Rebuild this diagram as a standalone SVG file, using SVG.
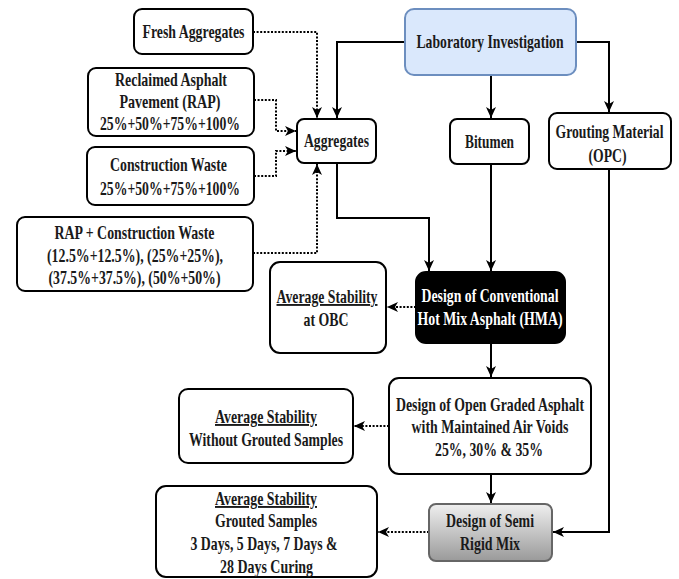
<svg xmlns="http://www.w3.org/2000/svg" width="679" height="579" viewBox="0 0 679 579">
<defs>
<style>
.box{fill:#fff;stroke:#000;stroke-width:2}
.t{font-family:"Liberation Serif","Times New Roman","DejaVu Serif",serif;font-weight:700;font-size:19px;fill:#1a1a1a;text-anchor:middle}
.w{fill:#fff}
.u{text-decoration:underline}
.c{fill:none;stroke:#000;stroke-width:2}
.d{fill:none;stroke:#000;stroke-width:2;stroke-dasharray:2,1.6}
</style>
<marker id="ah" markerUnits="userSpaceOnUse" markerWidth="12" markerHeight="12" refX="11" refY="6" orient="auto" viewBox="0 0 12 12">
<path d="M0,1 L11,6 L0,11 L3,6 Z" fill="#000"/>
</marker>
<linearGradient id="gr" x1="0" y1="0" x2="0" y2="1">
<stop offset="0" stop-color="#efefef"/>
<stop offset="1" stop-color="#9a9a9a"/>
</linearGradient>
</defs>

<g id="connectors">
<path class="c" d="M405,42 H337 V118" marker-end="url(#ah)"/>
<path class="c" d="M491,75 V118" marker-end="url(#ah)"/>
<path class="c" d="M576,42 H609 V112" marker-end="url(#ah)"/>
<path class="d" d="M253,32 H317 V118" marker-end="url(#ah)"/>
<path class="d" d="M254,100 H276 V131 H296" marker-end="url(#ah)"/>
<path class="d" d="M254,176 H276 V151 H296" marker-end="url(#ah)"/>
<path class="d" d="M253,253 H317 V164" marker-end="url(#ah)"/>
<path class="c" d="M337,163 V218 H429 V271" marker-end="url(#ah)"/>
<path class="c" d="M491,164 V271" marker-end="url(#ah)"/>
<path class="c" d="M609,169 V532 H553" marker-end="url(#ah)"/>
<path class="d" d="M416,307 H387" marker-end="url(#ah)"/>
<path class="c" d="M491,343 V377" marker-end="url(#ah)"/>
<path class="d" d="M389,426 H354" marker-end="url(#ah)"/>
<path class="c" d="M491,474 V503" marker-end="url(#ah)"/>
<path class="d" d="M429,532 H378" marker-end="url(#ah)"/>
</g>

<g id="lab">
<rect x="405" y="9" width="171" height="66" rx="9" fill="#dae8fc" stroke="#6c8ebf" stroke-width="2"/>
<text class="t" x="490" y="48" textLength="147" lengthAdjust="spacingAndGlyphs">Laboratory Investigation</text>
</g>

<g id="fresh">
<rect class="box" x="134" y="9" width="119" height="45" rx="8"/>
<text class="t" x="193.5" y="38" textLength="102" lengthAdjust="spacingAndGlyphs">Fresh Aggregates</text>
</g>

<g id="rap">
<rect class="box" x="88" y="68" width="166" height="68" rx="8"/>
<text class="t" x="171" y="86" textLength="112" lengthAdjust="spacingAndGlyphs">Reclaimed Asphalt</text>
<text class="t" x="170" y="108" textLength="101" lengthAdjust="spacingAndGlyphs">Pavement (RAP)</text>
<text class="t" x="170" y="130" textLength="140" lengthAdjust="spacingAndGlyphs">25%+50%+75%+100%</text>
</g>

<g id="cw">
<rect class="box" x="87" y="147" width="167" height="58" rx="8"/>
<text class="t" x="168.5" y="171" textLength="117" lengthAdjust="spacingAndGlyphs">Construction Waste</text>
<text class="t" x="170" y="195" textLength="140" lengthAdjust="spacingAndGlyphs">25%+50%+75%+100%</text>
</g>

<g id="rapcw">
<rect class="box" x="17" y="217" width="236" height="74" rx="8"/>
<text class="t" x="134.5" y="239" textLength="160" lengthAdjust="spacingAndGlyphs">RAP + Construction Waste</text>
<text class="t" x="135" y="262" textLength="176" lengthAdjust="spacingAndGlyphs">(12.5%+12.5%), (25%+25%),</text>
<text class="t" x="134.5" y="284" textLength="172" lengthAdjust="spacingAndGlyphs">(37.5%+37.5%), (50%+50%)</text>
</g>

<g id="aggregates">
<rect class="box" x="297" y="119" width="79" height="44" rx="7"/>
<text class="t" x="336.5" y="147" textLength="65" lengthAdjust="spacingAndGlyphs">Aggregates</text>
</g>

<g id="bitumen">
<rect class="box" x="450" y="119" width="79" height="45" rx="7"/>
<text class="t" x="489.5" y="148" textLength="49" lengthAdjust="spacingAndGlyphs">Bitumen</text>
</g>

<g id="grouting">
<rect class="box" x="549" y="113" width="122" height="56" rx="8"/>
<text class="t" x="609.5" y="138" textLength="108" lengthAdjust="spacingAndGlyphs">Grouting Material</text>
<text class="t" x="607.5" y="162" textLength="38" lengthAdjust="spacingAndGlyphs">(OPC)</text>
</g>

<g id="hma">
<rect x="416" y="272" width="149" height="71" rx="10" fill="#000" stroke="#000" stroke-width="2"/>
<text class="t w" x="490" y="302" textLength="137" lengthAdjust="spacingAndGlyphs">Design of Conventional</text>
<text class="t w" x="490" y="325" textLength="145" lengthAdjust="spacingAndGlyphs">Hot Mix Asphalt (HMA)</text>
</g>

<g id="obc">
<rect class="box" x="270" y="262" width="116" height="91" rx="10"/>
<text class="t u" x="327" y="303" textLength="101" lengthAdjust="spacingAndGlyphs">Average Stability</text>
<text class="t" x="326" y="326" textLength="45" lengthAdjust="spacingAndGlyphs">at OBC</text>
</g>

<g id="open">
<rect class="box" x="389" y="378" width="202" height="96" rx="10"/>
<text class="t" x="490" y="411" textLength="188" lengthAdjust="spacingAndGlyphs">Design of Open Graded Asphalt</text>
<text class="t" x="490" y="433" textLength="157" lengthAdjust="spacingAndGlyphs">with Maintained Air Voids</text>
<text class="t" x="489" y="456" textLength="108" lengthAdjust="spacingAndGlyphs">25%, 30% &amp; 35%</text>
</g>

<g id="without">
<rect class="box" x="179" y="389" width="174" height="74" rx="9"/>
<text class="t u" x="266" y="423" textLength="102" lengthAdjust="spacingAndGlyphs">Average Stability</text>
<text class="t" x="266" y="446" textLength="154" lengthAdjust="spacingAndGlyphs">Without Grouted Samples</text>
</g>

<g id="semirigid">
<rect x="429" y="504" width="123" height="57" rx="7" fill="url(#gr)" stroke="#666" stroke-width="2"/>
<text class="t" x="490" y="527" textLength="88" lengthAdjust="spacingAndGlyphs">Design of Semi</text>
<text class="t" x="490" y="550" textLength="60" lengthAdjust="spacingAndGlyphs">Rigid Mix</text>
</g>

<g id="grouted">
<rect class="box" x="156" y="486" width="221" height="91" rx="10"/>
<text class="t u" x="266" y="505" textLength="102" lengthAdjust="spacingAndGlyphs">Average Stability</text>
<text class="t" x="266" y="527" textLength="102" lengthAdjust="spacingAndGlyphs">Grouted Samples</text>
<text class="t" x="264" y="550" textLength="147" lengthAdjust="spacingAndGlyphs">3 Days, 5 Days, 7 Days &amp;</text>
<text class="t" x="266.5" y="573" textLength="93" lengthAdjust="spacingAndGlyphs">28 Days Curing</text>
</g>
</svg>
